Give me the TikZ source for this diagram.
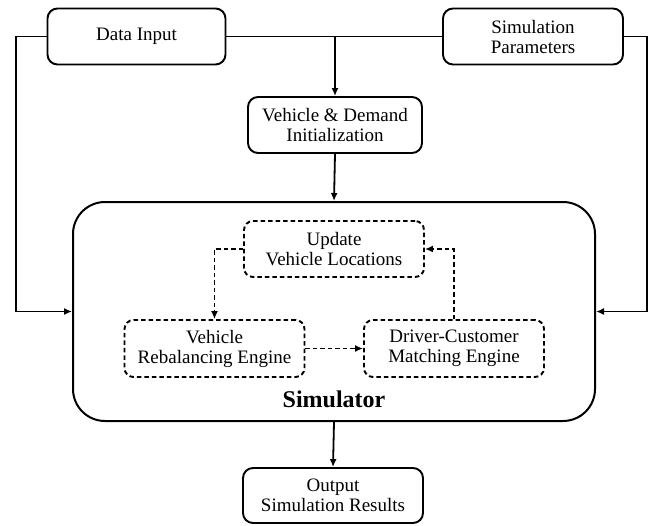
\documentclass[tikz,border=0pt]{standalone}
\usepackage{fontspec}
\setmainfont{Liberation Serif}
\usepackage{tikz}
\usetikzlibrary{shapes,arrows,arrows.meta}
\usetikzlibrary{positioning}

\begin{document}
\begin{tikzpicture}[>={Latex[length=8pt,width=7pt]}, x=1pt, y=-1pt, line width=1.9pt]

    \tikzstyle{block}=[draw, rounded corners=10pt, minimum width=178pt, minimum height=56pt, inner sep=0pt, align=center, font=\fontsize{19}{20}\selectfont];
    \tikzstyle{stage}=[block, dashed, dash pattern=on 4.5pt off 3pt, rounded corners=9pt];
    \tikzstyle{link}=[->, line width=1.8pt];

    \useasboundingbox (0,0) rectangle (650,525);

    \node [draw, rounded corners=32pt, minimum width=522pt, minimum height=219pt, line width=2pt](sim) at (334, 311.5){};
    \node [font=\fontsize{24}{24}\selectfont\bfseries, anchor=base](simlabel) at (334, 407){Simulator};

    \node [block](datain) at (136.5, 36.5){Data Input};
    \node [block, minimum width=180pt](params) at (533, 36.5){Simulation\\Parameters};
    \node [block, minimum width=174pt](init) at (335, 125){Vehicle \& Demand\\Initialization};
    \node [block, minimum width=180pt, minimum height=55pt](output) at (333, 495.5){Output\\Simulation Results};

    \node [stage, minimum width=180pt](update) at (334, 249){Update\\Vehicle Locations};
    \node [stage, minimum width=180pt, minimum height=57pt](rebal) at (214.5, 348.5){Vehicle\\Rebalancing Engine};
    \node [stage, minimum width=180pt, minimum height=57pt](match) at (454, 348.5){Driver-Customer\\Matching Engine};

    \coordinate (junc) at (init.north |- datain.east);
    \coordinate (leftrail) at (16, 36.5);
    \coordinate (rightrail) at (647, 36.5);

    \draw (datain.east) -- (params.west);
    \draw [link] (junc) -- (init.north);
    \draw [link] (datain.west) -- (leftrail) |- (sim.west);
    \draw [link] (params.east) -- (rightrail) |- (sim.east);
    \draw [link] (init.south) -- (sim.north);
    \draw [link] (sim.south) -- (output.north);

    \draw [link, dashed, dash pattern=on 4.5pt off 3pt] (update.west) -| (rebal.north);
    \draw [link, dashed, dash pattern=on 4.5pt off 3pt] (rebal.east) -- (match.west);
    \draw [link, dashed, dash pattern=on 4.5pt off 3pt] (match.north) |- (update.east);

\end{tikzpicture}
\end{document}
